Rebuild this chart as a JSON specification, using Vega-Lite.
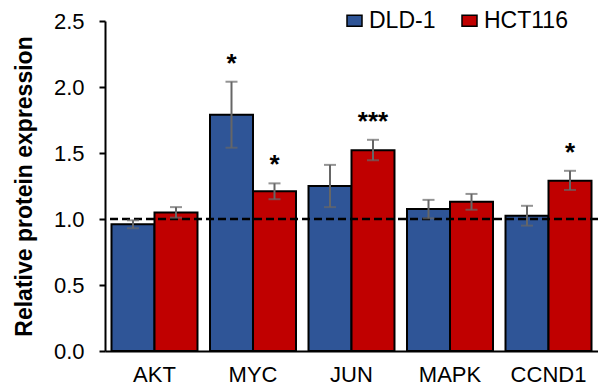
{
  "$schema": "https://vega.github.io/schema/vega-lite/v6.json",
  "width": 493,
  "height": 330,
  "autosize": {"type": "none"},
  "padding": {"left": 105, "top": 21, "right": 0, "bottom": 40},
  "background": "white",
  "config": {"view": {"stroke": null}, "font": "Liberation Sans"},
  "data": {
    "values": [
      {"gene": "AKT", "group": "DLD-1", "value": 0.96, "lo": 0.93, "hi": 0.99, "star": ""},
      {"gene": "AKT", "group": "HCT116", "value": 1.05, "lo": 1.01, "hi": 1.09, "star": ""},
      {"gene": "MYC", "group": "DLD-1", "value": 1.79, "lo": 1.54, "hi": 2.04, "star": "*"},
      {"gene": "MYC", "group": "HCT116", "value": 1.21, "lo": 1.15, "hi": 1.27, "star": "*"},
      {"gene": "JUN", "group": "DLD-1", "value": 1.25, "lo": 1.09, "hi": 1.41, "star": ""},
      {"gene": "JUN", "group": "HCT116", "value": 1.52, "lo": 1.445, "hi": 1.6, "star": "***"},
      {"gene": "MAPK", "group": "DLD-1", "value": 1.075, "lo": 1.005, "hi": 1.145, "star": ""},
      {"gene": "MAPK", "group": "HCT116", "value": 1.13, "lo": 1.07, "hi": 1.19, "star": ""},
      {"gene": "CCND1", "group": "DLD-1", "value": 1.025, "lo": 0.95, "hi": 1.1, "star": ""},
      {"gene": "CCND1", "group": "HCT116", "value": 1.29, "lo": 1.22, "hi": 1.365, "star": "*"}
    ]
  },
  "layer": [
    {
      "mark": {"type": "bar", "stroke": "black", "strokeWidth": 2},
      "encoding": {
        "x": {"field": "gene", "type": "nominal", "sort": ["AKT", "MYC", "JUN", "MAPK", "CCND1"],
              "scale": {"paddingInner": 0.127, "paddingOuter": 0.066},
              "axis": {"title": null, "labelAngle": 0, "labelFontSize": 22, "labelColor": "black", "ticks": false, "labelPadding": 13, "domainColor": "black", "domainWidth": 2}},
        "xOffset": {"field": "group", "type": "nominal", "sort": ["DLD-1", "HCT116"], "scale": {"paddingInner": 0, "paddingOuter": 0}},
        "y": {"field": "value", "type": "quantitative", "scale": {"domain": [0, 2.5], "nice": false},
              "axis": {"values": [0, 0.5, 1, 1.5, 2, 2.5], "format": ".1f", "grid": false, "labelFontSize": 22, "labelColor": "black", "labelPadding": 15,
                       "tickColor": "black", "tickWidth": 2, "tickSize": 6, "domainColor": "black", "domainWidth": 2,
                       "title": "Relative protein expression", "titleFontSize": 23, "titleFontWeight": "bold", "titleColor": "black", "titlePadding": 17}},
        "color": {"field": "group", "type": "nominal", "sort": ["DLD-1", "HCT116"],
                  "scale": {"range": ["#2F5597", "#C00000"]},
                  "legend": {"title": null, "orient": "none", "legendX": 238, "legendY": -12, "direction": "horizontal",
                             "labelFontSize": 23, "labelColor": "black", "labelOffset": 3, "columnPadding": 22,
                             "symbolType": "M-1,-0.73H1V0.73H-1Z", "symbolSize": 225, "symbolStrokeColor": "black", "symbolStrokeWidth": 1.5, "symbolOpacity": 1}}
      }
    },
    {
      "data": {"values": [{"ref": 1}]},
      "mark": {"type": "rule", "color": "black", "strokeWidth": 2.5, "strokeDash": [8, 4]},
      "encoding": {"y": {"field": "ref", "type": "quantitative"}}
    },
    {
      "mark": {"type": "rule", "color": "#666666", "strokeWidth": 2},
      "encoding": {
        "x": {"field": "gene", "type": "nominal", "sort": ["AKT", "MYC", "JUN", "MAPK", "CCND1"]},
        "xOffset": {"field": "group", "type": "nominal", "sort": ["DLD-1", "HCT116"]},
        "y": {"field": "lo", "type": "quantitative"},
        "y2": {"field": "hi"}
      }
    },
    {
      "mark": {"type": "tick", "color": "#666666", "size": 12, "thickness": 2},
      "encoding": {
        "x": {"field": "gene", "type": "nominal", "sort": ["AKT", "MYC", "JUN", "MAPK", "CCND1"]},
        "xOffset": {"field": "group", "type": "nominal", "sort": ["DLD-1", "HCT116"]},
        "y": {"field": "lo", "type": "quantitative"}
      }
    },
    {
      "mark": {"type": "tick", "color": "#666666", "size": 12, "thickness": 2},
      "encoding": {
        "x": {"field": "gene", "type": "nominal", "sort": ["AKT", "MYC", "JUN", "MAPK", "CCND1"]},
        "xOffset": {"field": "group", "type": "nominal", "sort": ["DLD-1", "HCT116"]},
        "y": {"field": "hi", "type": "quantitative"}
      }
    },
    {
      "transform": [{"filter": "datum.star != ''"}],
      "mark": {"type": "text", "fontSize": 26, "fontWeight": "bold", "color": "black", "baseline": "alphabetic", "align": "center", "dy": -10},
      "encoding": {
        "x": {"field": "gene", "type": "nominal", "sort": ["AKT", "MYC", "JUN", "MAPK", "CCND1"]},
        "xOffset": {"field": "group", "type": "nominal", "sort": ["DLD-1", "HCT116"]},
        "y": {"field": "hi", "type": "quantitative"},
        "text": {"field": "star"}
      }
    }
  ]
}
